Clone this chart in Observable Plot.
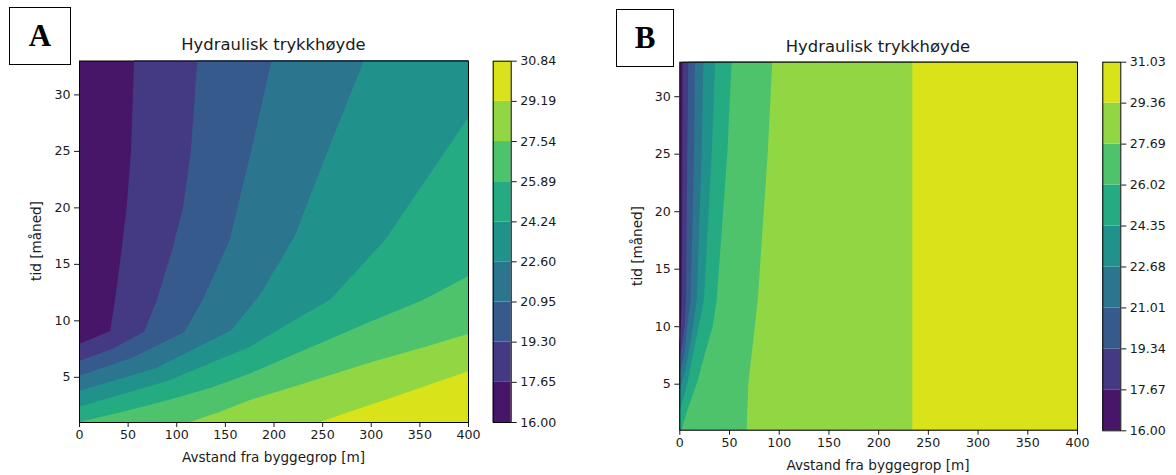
<!DOCTYPE html>
<html><head><meta charset="utf-8">
<script src="https://cdn.jsdelivr.net/npm/d3@7"></script>
<script src="https://cdn.jsdelivr.net/npm/@observablehq/plot@0.6"></script>
<style>
body{margin:0;background:#fff;}
#root{position:relative;width:1176px;height:475px;overflow:hidden;font-family:"DejaVu Sans",sans-serif;color:#000;}
.abs{position:absolute;}
.box{position:absolute;border:1.3px solid #000;box-sizing:border-box;font-family:"Liberation Serif","Times New Roman",serif;font-weight:bold;font-size:31px;display:flex;align-items:center;justify-content:center;}
.t{position:absolute;white-space:nowrap;transform:translateX(-50%);line-height:1;color:#1a1a1a;}
.yl{position:absolute;white-space:nowrap;transform:translate(-50%,-50%) rotate(-90deg);font-size:13.6px;line-height:1;color:#1a1a1a;}
</style></head>
<body><div id="root"></div>
<script>
// ---------- data: panel A ----------
const levelsA = [16.00, 17.65, 19.30, 20.95, 22.60, 24.24, 25.89, 27.54, 29.19, 30.84];
// contour boundaries, [distance m, time month], boundary k separates band k-1 and band k
const aB1 = [[0,1],[0,7.9],[32,9.05],[37,11.8],[42,15],[49,20],[53.5,25],[56.6,33]];
const aB2 = [[0,1],[0,6.4],[35,7.5],[67,9.0],[80,11.8],[95,16],[107,20],[115,25],[121.6,33]];
const aB3 = [[0,1],[0,5.07],[55,6.7],[108,8.94],[127,11.8],[155,17.1],[177,25],[198,33]];
const aB4 = [[0,1],[0,3.74],[80,5.8],[157,9.14],[188,12.5],[222,17.5],[258,25.5],[293,33]];
const aB5 = [[0,1],[0,2.35],[90,4.6],[175.8,7.66],[227,10.3],[258,11.8],[314.6,17.1],[400,27.9]];
const aB6 = [[0,1],[45,1.9],[90,2.9],[135,4.0],[175.8,5.3],[227,7.2],[300,9.9],[353.7,11.8],[400,13.9]];
const aB7 = [[114,1],[145,1.9],[175.8,2.95],[227,4.3],[300,6.3],[350,7.5],[400,8.8]];
const aB8 = [[248,1],[285,2.1],[320,3.1],[360,4.3],[400,5.5]];
// ---------- data: panel B ----------
const levelsB = [16.00, 17.67, 19.34, 21.01, 22.68, 24.35, 26.02, 27.69, 29.36, 31.03];
const bB1 = [[0,1],[0,8.5],[1.5,10],[2.5,12.3],[3,20],[3.4,33]];
const bB2 = [[0,1],[0,7.0],[3,8.5],[5.4,10],[6.7,12.3],[8,25],[9,33]];
const bB3 = [[0,1],[0,5.8],[5,7.5],[8,10],[11.4,12.3],[14.8,25],[15.8,33]];
const bB4 = [[0,1],[0,4.3],[6,6.2],[12,9],[17.5,12.3],[22.5,25],[24.2,33]];
const bB5 = [[0,1],[0,2.5],[8,5],[16,8.5],[24.8,12.3],[32.6,25],[36,33]];
const bB6 = [[2.4,1],[8,2.7],[17.5,5],[27,8],[33.6,10],[37.6,12.3],[48.3,25],[52.6,33]];
const bB7 = [[67.8,1],[69.4,5],[76,10],[78.9,12.3],[88.9,25],[93.5,33]];
const bB8 = [[234.4,1],[234.4,33]];

const xTicks = [0,50,100,150,200,250,300,350,400];
const yTicks = [5,10,15,20,25,30];
const title = "Hydraulisk trykkhøyde";
const xLabel = "Avstand fra byggegrop [m]";
const yLabel = "tid [måned]";

const nB = 9;
const colors = d3.range(nB).map(i => d3.interpolateViridis((i + 0.5) / nB));
const FS = "12.6px";
const root = document.getElementById("root");

function place(el, left, top) {
  const d = document.createElement("div");
  d.className = "abs"; d.style.left = left + "px"; d.style.top = top + "px";
  d.appendChild(el); root.appendChild(d);
}
function text(cls, str, x, y, size) {
  const d = document.createElement("div");
  d.className = cls; d.textContent = str;
  d.style.left = x + "px"; d.style.top = y + "px";
  if (size) d.style.fontSize = size + "px";
  root.appendChild(d);
}

function contour(boundaries, m, w) {
  const marks = [Plot.frame({fill: colors[0]})];
  boundaries.forEach((b, k) => {
    marks.push(Plot.areaX(b, {y: d => d[1], x1: d => d[0], x2: () => 400, fill: colors[k + 1]}));
  });
  marks.push(Plot.frame({stroke: "black", strokeWidth: 1}));
  return Plot.plot({
    width: w, height: 475,
    marginLeft: m.l, marginRight: m.r, marginTop: m.t, marginBottom: m.b,
    style: {fontFamily: "DejaVu Sans", fontSize: FS, color: "#1a1a1a", background: "transparent", overflow: "visible"},
    x: {domain: [0, 400], ticks: xTicks, tickSize: 5, tickPadding: 3, label: null, tickFormat: d3.format("d")},
    y: {domain: [1, 33], ticks: yTicks, tickSize: 5, tickPadding: 4, label: null, tickFormat: d3.format("d")},
    marks
  });
}

function colorbar(levels, m, w) {
  const bands = d3.range(nB).map(i => ({lo: levels[i], hi: levels[i + 1], c: colors[i]}));
  return Plot.plot({
    width: w, height: 475,
    marginLeft: m.l, marginRight: m.r, marginTop: m.t, marginBottom: m.b,
    style: {fontFamily: "DejaVu Sans", fontSize: FS, color: "#1a1a1a", background: "transparent", overflow: "visible"},
    x: {domain: [0, 1], axis: null},
    y: {domain: [levels[0], levels[levels.length - 1]], axis: "right", ticks: levels, tickFormat: d3.format(".2f"), tickSize: 5, tickPadding: 4, label: null},
    color: {type: "identity"},
    marks: [
      Plot.rect(bands, {x1: () => 0, x2: () => 1, y1: "lo", y2: "hi", fill: "c"}),
      Plot.frame({stroke: "black", strokeWidth: 1})
    ]
  });
}

// Panel A
place(contour([aB1, aB2, aB3, aB4, aB5, aB6, aB7, aB8], {l: 79, r: 120, t: 60.5, b: 53}, 588), 0, 0);
place(colorbar(levelsA, {l: 22.7, r: 69.3, t: 60.7, b: 53}, 110), 470, 0);
// Panel B
place(contour([bB1, bB2, bB3, bB4, bB5, bB6, bB7, bB8], {l: 91.3, r: 99, t: 61.7, b: 45.3}, 588), 588, 0);
place(colorbar(levelsB, {l: 22.3, r: 55.7, t: 61.7, b: 44.7}, 96), 1080, 0);

// texts
const boxA = document.createElement("div"); boxA.className = "box"; boxA.textContent = "A";
Object.assign(boxA.style, {left: "9px", top: "7px", width: "62px", height: "58px"}); root.appendChild(boxA);
const boxB = document.createElement("div"); boxB.className = "box"; boxB.textContent = "B";
Object.assign(boxB.style, {left: "616px", top: "9px", width: "58px", height: "58px"}); root.appendChild(boxB);

text("t", title, 273.5, 37, 16.4);
text("t", title, 878, 39, 16.4);
text("t", xLabel, 273.5, 451, 13.6);
text("t", xLabel, 878, 459, 13.6);
text("yl", yLabel, 37, 241);
text("yl", yLabel, 638, 246);
</script>
</body></html>
